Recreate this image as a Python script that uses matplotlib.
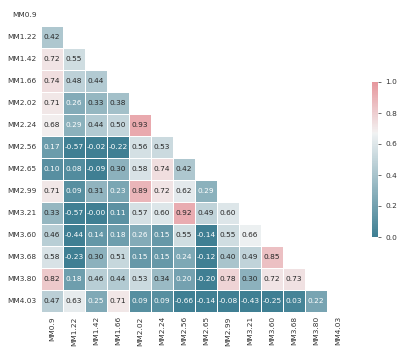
import numpy as np
import matplotlib
matplotlib.use("Agg")
import matplotlib.pyplot as plt
import seaborn as sns

labels = ["MM0.9", "MM1.22", "MM1.42", "MM1.66", "MM2.02", "MM2.24", "MM2.56",
          "MM2.65", "MM2.99", "MM3.21", "MM3.60", "MM3.68", "MM3.80", "MM4.03"]

lower_rows = [
    [],
    [0.42],
    [0.72, 0.55],
    [0.74, 0.48, 0.44],
    [0.71, 0.26, 0.33, 0.38],
    [0.68, 0.29, 0.44, 0.50, 0.93],
    [0.17, -0.57, -0.02, -0.22, 0.56, 0.53],
    [0.10, 0.08, -0.09, 0.30, 0.58, 0.74, 0.42],
    [0.71, 0.09, 0.31, 0.23, 0.89, 0.72, 0.62, 0.29],
    [0.33, -0.57, -0.001, 0.11, 0.57, 0.60, 0.92, 0.49, 0.60],
    [0.46, -0.44, 0.14, 0.18, 0.26, 0.15, 0.55, -0.14, 0.55, 0.66],
    [0.58, -0.23, 0.30, 0.51, 0.15, 0.15, 0.24, -0.12, 0.40, 0.49, 0.85],
    [0.82, 0.18, 0.46, 0.44, 0.53, 0.34, 0.20, -0.20, 0.78, 0.30, 0.72, 0.73],
    [0.47, 0.63, 0.25, 0.71, 0.09, 0.09, -0.66, -0.14, -0.08, -0.43, -0.25, 0.03, 0.22],
]

n = len(labels)
corr = np.eye(n)
for i, row in enumerate(lower_rows):
    for j, v in enumerate(row):
        corr[i, j] = v
        corr[j, i] = v
mask = np.triu(np.ones((n, n), dtype=bool))

sns.set_style("white")
plt.rcParams['font.family'] = ['DejaVu Sans']

fig = plt.figure(figsize=(4.0, 3.56), dpi=100)
W, H = 400, 356
ax = fig.add_axes([41 / W, 1 - 312 / H, 308 / W, 308 / H])
cax = fig.add_axes([372 / W, 1 - 237 / H, 6 / W, 155 / H])

cmap = sns.diverging_palette(220, 10, as_cmap=True)
sns.heatmap(corr, mask=mask, cmap=cmap, vmin=0, vmax=1, center=0.67,
            square=True, linewidths=0.5, linecolor="white",
            annot=True, fmt=".2f", annot_kws={"size": 5.3},
            xticklabels=labels, yticklabels=labels,
            ax=ax, cbar_ax=cax)

ax.tick_params(axis="both", length=0, labelsize=5.3, colors="#333333", pad=3)
ax.set_xticklabels(labels, rotation=90)
ax.set_yticklabels(labels, rotation=0)
cax.tick_params(labelsize=5.3, colors="#333333", length=2, width=0.5)
cax.set_yticks([0.0, 0.2, 0.4, 0.6, 0.8, 1.0])

fig.savefig("out.png", dpi=100)
